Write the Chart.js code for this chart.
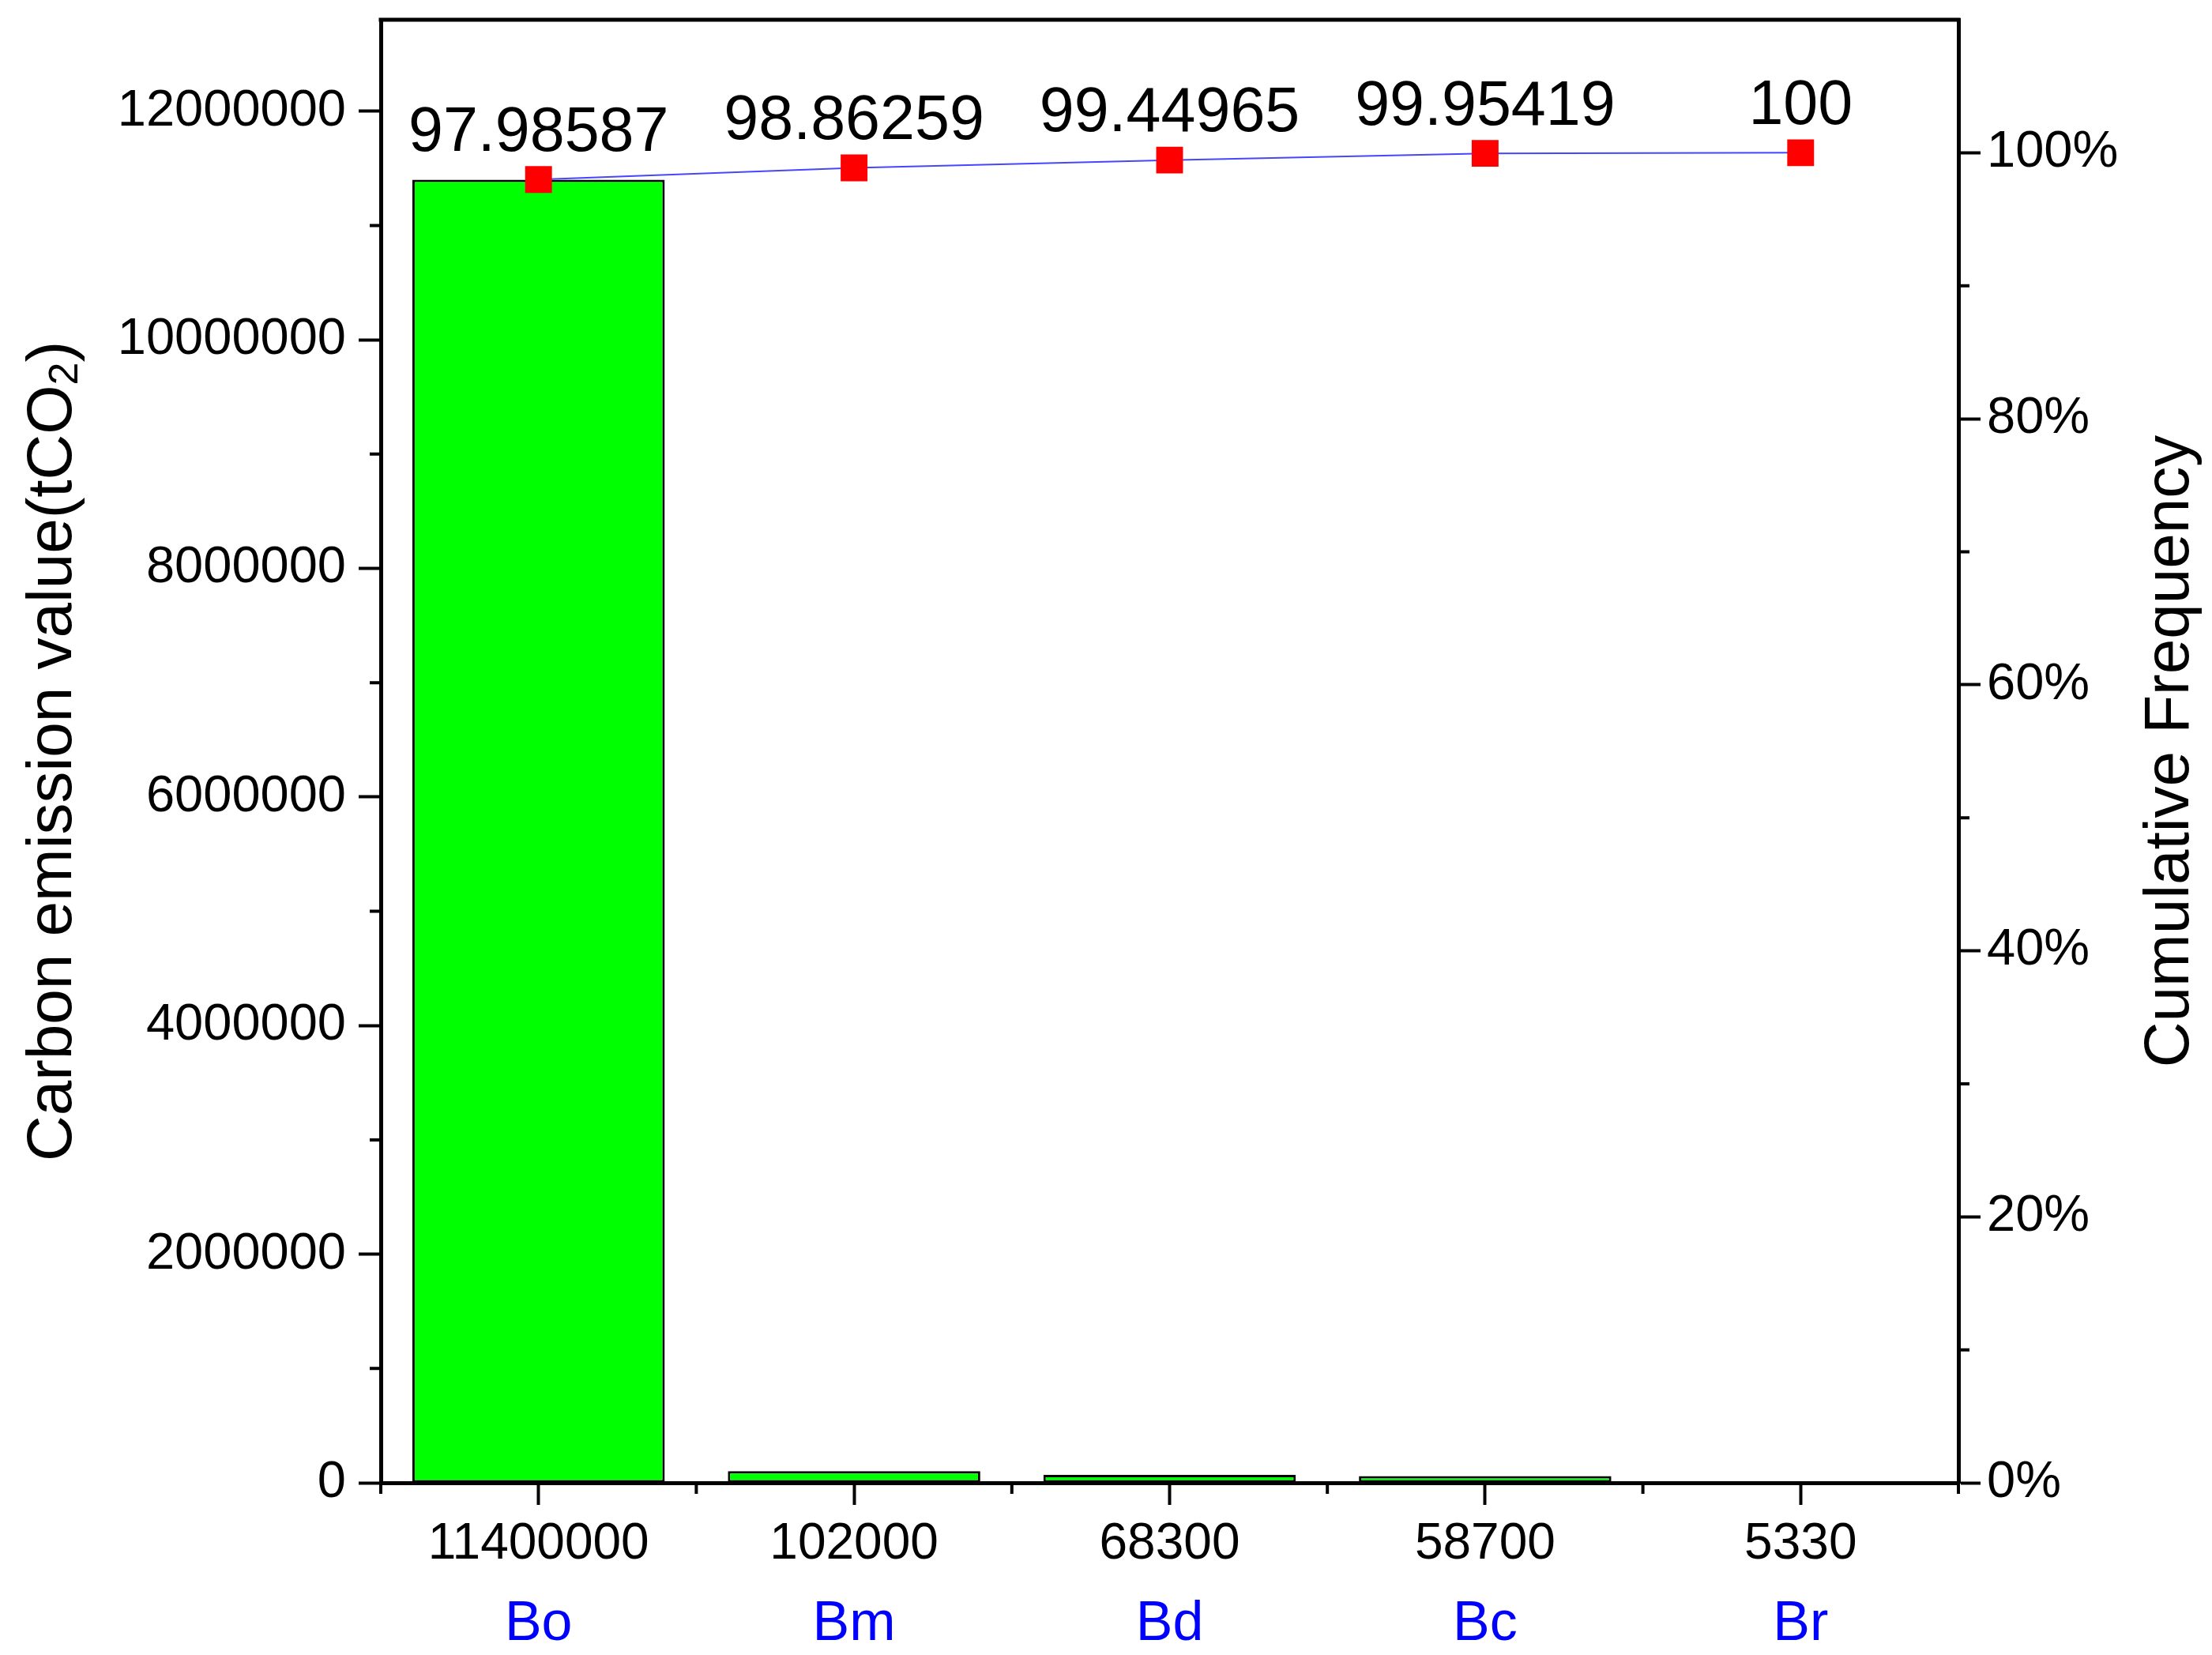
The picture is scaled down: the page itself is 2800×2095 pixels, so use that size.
<!DOCTYPE html>
<html>
<head>
<meta charset="utf-8">
<script src="https://cdn.jsdelivr.net/npm/chart.js@4.4.1/dist/chart.umd.min.js"></script>
<style>
  body { margin: 0; background: #fff; }
  canvas { display: block; }
</style>
</head>
<body>
<canvas id="myChart" width="2800" height="2095"></canvas>
<script>
// data
const names = ['Bo', 'Bm', 'Bd', 'Bc', 'Br'];
const emissions = [11400000, 102000, 68300, 58700, 5330];
const cumulative = [97.98587, 98.86259, 99.44965, 99.95419, 100];

const leftTicks = [0, 2000000, 4000000, 6000000, 8000000, 10000000, 12000000];
const leftMinor = [1000000, 3000000, 5000000, 7000000, 9000000, 11000000];
const rightTicks = [0, 20, 40, 60, 80, 100];
const rightMinor = [10, 30, 50, 70, 90];

const leftTitle = ['Carbon emission value(tCO', '2', ')'];
const rightTitle = 'Cumulative Frequency';

const FONT = "'Liberation Sans', Arial, sans-serif";
Chart.defaults.font.family = FONT;
Chart.defaults.color = '#000';

// minor ticks, top frame line, rotated titles
const frame = {
  id: 'frame',
  afterDraw(chart) {
    const { ctx, chartArea: a, scales } = chart;
    ctx.save();
    ctx.strokeStyle = '#000';
    ctx.lineWidth = 4;
    ctx.beginPath();
    leftMinor.forEach(v => {
      const y = scales.y.getPixelForValue(v);
      ctx.moveTo(a.left, y);
      ctx.lineTo(a.left - 14, y);
    });
    rightMinor.forEach(v => {
      const y = scales.y1.getPixelForValue(v);
      ctx.moveTo(a.right, y);
      ctx.lineTo(a.right + 14, y);
    });
    for (let i = 0; i <= names.length; i++) {
      const x = scales.x.getPixelForValue(i - 0.5);
      ctx.moveTo(x, a.bottom);
      ctx.lineTo(x, a.bottom + 14);
    }
    ctx.stroke();

    ctx.lineWidth = 5;
    ctx.lineCap = 'square';
    ctx.beginPath();
    ctx.moveTo(a.left, a.top);
    ctx.lineTo(a.right, a.top);
    ctx.stroke();

    // left title with subscript
    const cy = (a.top + a.bottom) / 2;
    const big = '80px ' + FONT, small = '52px ' + FONT;
    ctx.fillStyle = '#000';
    ctx.textBaseline = 'middle';
    ctx.font = big;
    const w0 = ctx.measureText(leftTitle[0]).width;
    const w2 = ctx.measureText(leftTitle[2]).width;
    ctx.font = small;
    const w1 = ctx.measureText(leftTitle[1]).width;
    const total = w0 + w1 + w2;
    ctx.save();
    ctx.translate(68, cy);
    ctx.rotate(-Math.PI / 2);
    ctx.textAlign = 'left';
    ctx.font = big;
    ctx.fillText(leftTitle[0], -total / 2, 0);
    ctx.font = small;
    ctx.fillText(leftTitle[1], -total / 2 + w0, 16);
    ctx.font = big;
    ctx.fillText(leftTitle[2], -total / 2 + w0 + w1, 0);
    ctx.restore();

    // right title, reading upward
    ctx.save();
    ctx.translate(2748, cy);
    ctx.rotate(-Math.PI / 2);
    ctx.textAlign = 'center';
    ctx.font = big;
    ctx.fillText(rightTitle, 0, 0);
    ctx.restore();
    ctx.restore();
  },
  afterDatasetsDraw(chart) {
    const { ctx } = chart;
    const meta = chart.getDatasetMeta(1);
    ctx.save();
    ctx.fillStyle = '#000';
    ctx.font = '79px ' + FONT;
    ctx.textAlign = 'center';
    ctx.textBaseline = 'middle';
    meta.data.forEach((pt, i) => {
      ctx.fillText(String(cumulative[i]), pt.x, pt.y - 58);
    });
    ctx.restore();
  }
};

function noPad(s) {
  s.paddingTop = 0;
  s.paddingBottom = 0;
  s.paddingLeft = 0;
  s.paddingRight = 0;
}

const ctx = document.getElementById('myChart');

new Chart(ctx, {
  type: 'bar',
  data: {
    labels: emissions.map(String),
    datasets: [{
      type: 'bar',
      label: 'Carbon emission value',
      data: emissions,
      backgroundColor: '#00ff00',
      borderColor: '#000',
      borderWidth: 3,
      borderSkipped: false,
      barPercentage: 0.8,
      categoryPercentage: 1,
      yAxisID: 'y',
      order: 1
    }, {
      type: 'line',
      label: 'Cumulative Frequency',
      data: cumulative,
      borderColor: 'rgb(70,70,255)',
      borderWidth: 2,
      pointStyle: 'rect',
      pointRadius: 24,
      pointBackgroundColor: '#ff0000',
      pointBorderWidth: 0,
      yAxisID: 'y1',
      order: 0
    }]
  },
  options: {
    responsive: false,
    devicePixelRatio: 1,
    animation: false,
    layout: { padding: { top: 25, left: 0, right: 0, bottom: 0 } },
    plugins: {
      legend: { display: false },
      tooltip: { enabled: false }
    },
    scales: {
      x: {
        type: 'category',
        offset: true,
        weight: 0,
        grid: { offset: false, drawOnChartArea: false, tickLength: 28, tickWidth: 4, tickColor: '#000' },
        border: { display: true, color: '#000', width: 5 },
        ticks: { font: { size: 64 }, padding: 12, maxRotation: 0, autoSkip: false },
        afterFit: s => { s.height = 130; noPad(s); }
      },
      x2: {
        type: 'category',
        labels: names,
        position: 'bottom',
        offset: true,
        weight: 1,
        grid: { display: false },
        border: { display: false },
        ticks: { color: '#0000ff', font: { size: 70 }, padding: 0, maxRotation: 0, autoSkip: false },
        afterFit: s => { s.height = 88; noPad(s); }
      },
      y: {
        position: 'left',
        min: 0,
        max: 12800000,
        afterBuildTicks: s => { s.ticks = leftTicks.map(v => ({ value: v })); },
        grid: { drawOnChartArea: false, tickLength: 28, tickWidth: 4, tickColor: '#000' },
        border: { display: true, color: '#000', width: 5 },
        ticks: { font: { size: 65 }, padding: 16, callback: v => String(v) },
        afterFit: s => { s.width = 482; noPad(s); }
      },
      y1: {
        position: 'right',
        min: 0,
        max: 110,
        afterBuildTicks: s => { s.ticks = rightTicks.map(v => ({ value: v })); },
        grid: { drawOnChartArea: false, tickLength: 28, tickWidth: 4, tickColor: '#000' },
        border: { display: true, color: '#000', width: 5 },
        ticks: { font: { size: 65 }, padding: 8, callback: v => v + '%' },
        afterFit: s => { s.width = 321; noPad(s); }
      }
    }
  },
  plugins: [frame]
});
</script>
</body>
</html>
